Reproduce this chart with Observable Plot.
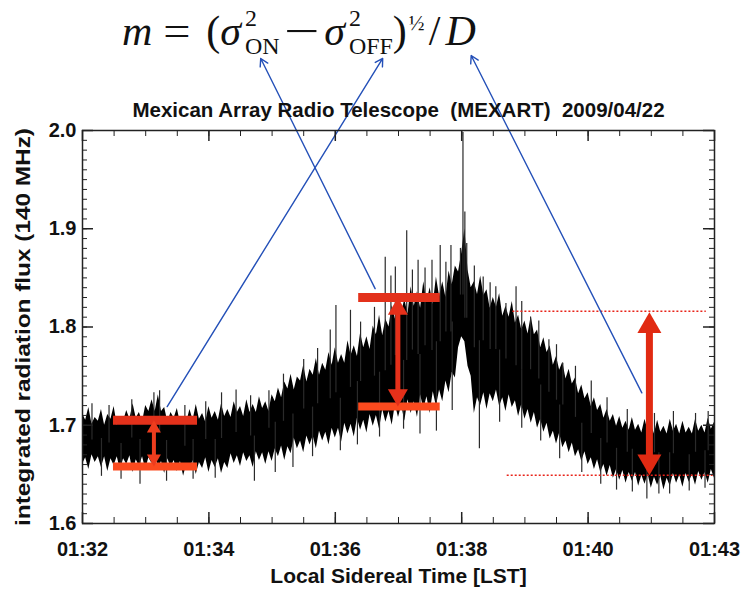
<!DOCTYPE html>
<html><head><meta charset="utf-8">
<script src="https://cdn.jsdelivr.net/npm/d3@7"></script>
<script src="https://cdn.jsdelivr.net/npm/@observablehq/plot@0.6"></script>
<style>
body{margin:0;background:#fff;}
#wrap{position:relative;width:745px;height:592px;overflow:hidden;background:#fff;}
#formula{position:absolute;left:122px;top:5px;font-family:"Liberation Serif","Times New Roman",serif;font-size:42px;color:#111;white-space:nowrap;line-height:1;}
#formula .ss{display:inline-block;font-size:0.57em;line-height:1.15;vertical-align:-9px;text-align:left;margin-left:4px;}
#formula .ss span{display:block;}
#formula .eq{display:inline-block;transform:scaleX(1.15);margin:0 0.42em 0 0.3em;}
#formula .op{display:inline-block;transform:scaleX(1.5);margin:0 0.26em 0 0.24em;}
#formula .half{font-size:0.5em;vertical-align:15px;margin-left:2px;}
#formula .sl{margin:0 0.12em 0 0.1em;}
</style></head>
<body><div id="wrap"><div id="chart"></div>
<div id="formula"><i>m</i><span class="eq">=</span>(<i>σ</i><span class="ss"><span>2</span><span>ON</span></span><span class="op">−</span><i>σ</i><span class="ss"><span>2</span><span>OFF</span></span>)<span class="half">½</span><span class="sl">/</span><i>D</i></div>
</div>
<script>
// ---- data: minutes after 01:32 LST ----
// outer edge of the dense trace, every 0.1 min (t = 0.0, 0.1, ... 10.0)
const bandHigh = [
1.712,1.718,1.708,1.716,1.711,1.719,1.709,1.715,1.722,1.713,
1.720,1.726,1.731,1.718,1.713,1.717,1.709,1.716,1.721,1.712,
1.719,1.714,1.722,1.716,1.724,1.719,1.726,1.721,1.729,1.724,
1.731,1.738,1.744,1.752,1.749,1.761,1.757,1.768,1.763,1.774,
1.779,1.772,1.786,1.781,1.794,1.790,1.801,1.812,1.808,1.822,
1.834,1.828,1.841,1.836,1.846,1.840,1.851,1.846,1.857,1.862,
1.875,1.858,1.846,1.852,1.838,1.830,1.834,1.821,1.826,1.812,
1.806,1.811,1.797,1.789,1.781,1.770,1.764,1.757,1.748,1.741,
1.733,1.728,1.721,1.716,1.711,1.709,1.704,1.708,1.701,1.706,
1.700,1.705,1.699,1.706,1.701,1.704,1.698,1.706,1.700,1.707,
1.703];
const bandLow = [
1.660,1.655,1.662,1.657,1.653,1.659,1.654,1.660,1.652,1.658,
1.655,1.661,1.656,1.651,1.657,1.653,1.648,1.655,1.650,1.656,
1.652,1.657,1.651,1.656,1.661,1.658,1.663,1.657,1.664,1.660,
1.663,1.668,1.664,1.671,1.676,1.672,1.680,1.676,1.684,1.680,
1.687,1.683,1.691,1.688,1.695,1.692,1.699,1.696,1.703,1.700,
1.708,1.704,1.712,1.708,1.716,1.712,1.719,1.724,1.733,1.748,
1.790,1.760,1.712,1.720,1.716,1.724,1.719,1.714,1.718,1.709,
1.706,1.702,1.697,1.693,1.686,1.681,1.677,1.672,1.668,1.663,
1.660,1.655,1.652,1.648,1.646,1.644,1.641,1.643,1.638,1.640,
1.636,1.639,1.634,1.638,1.641,1.637,1.642,1.639,1.644,1.641,
1.646];
// inner dips of the trace edge, halfway between samples (t = 0.05, 0.15, ... 9.95)
const dipHigh = [
1.705,1.701,1.704,1.700,1.706,1.700,1.704,1.706,1.707,1.703,
1.714,1.714,1.714,1.703,1.707,1.702,1.703,1.705,1.706,1.703,
1.707,1.705,1.709,1.708,1.713,1.709,1.713,1.713,1.717,1.714,
1.724,1.728,1.737,1.736,1.745,1.744,1.751,1.751,1.756,1.761,
1.763,1.763,1.771,1.770,1.779,1.777,1.792,1.791,1.800,1.808,
1.815,1.813,1.821,1.819,1.825,1.823,1.831,1.830,1.843,1.856,
1.900,1.840,1.833,1.832,1.819,1.820,1.811,1.810,1.804,1.797,
1.793,1.792,1.779,1.774,1.761,1.756,1.747,1.742,1.732,1.727,
1.719,1.715,1.707,1.704,1.699,1.697,1.695,1.695,1.692,1.694,
1.691,1.693,1.691,1.694,1.691,1.692,1.691,1.694,1.692,1.696];
const dipLow = [
1.667,1.670,1.668,1.668,1.666,1.668,1.666,1.669,1.665,1.668,
1.667,1.671,1.663,1.666,1.664,1.663,1.661,1.664,1.662,1.667,
1.664,1.666,1.662,1.671,1.669,1.672,1.669,1.673,1.672,1.673,
1.676,1.679,1.678,1.687,1.684,1.689,1.689,1.694,1.693,1.697,
1.697,1.702,1.701,1.707,1.705,1.711,1.710,1.716,1.714,1.721,
1.720,1.726,1.724,1.731,1.729,1.734,1.736,1.745,1.754,1.779,
1.785,1.750,1.728,1.733,1.732,1.736,1.728,1.731,1.725,1.721,
1.716,1.713,1.706,1.702,1.694,1.692,1.684,1.682,1.675,1.673,
1.667,1.665,1.660,1.659,1.655,1.654,1.652,1.652,1.649,1.650,
1.647,1.648,1.646,1.651,1.649,1.651,1.650,1.653,1.652,1.655];
// isolated spikes beyond the dense trace
const spikeTime = [0.15,0.42,0.78,1.13,1.22,1.62,1.95,2.20,2.43,2.66,2.95,3.18,3.50,3.72,3.92,4.01,4.24,4.40,4.62,4.79,4.88,4.95,5.13,5.22,5.31,5.42,5.53,5.66,5.75,5.83,5.98,6.02,6.05,6.08,6.20,6.34,6.45,6.54,6.70,6.86,6.95,7.09,7.22,7.38,7.50,7.60,7.80,8.05,8.30,8.62,9.05,9.35,9.70,9.90,
 0.30,0.61,0.91,1.33,1.75,2.10,2.72,3.05,3.33,3.64,4.08,4.35,4.70,5.08,5.34,5.60,5.85,6.28,6.60,6.95,7.25,7.55,7.90,8.20,8.45,8.70,8.93,9.12,9.29,9.60,9.85];
const spikeValue = [1.722,1.720,1.726,1.733,1.735,1.720,1.724,1.733,1.736,1.730,1.735,1.752,1.767,1.778,1.797,1.822,1.817,1.805,1.820,1.871,1.852,1.861,1.898,1.858,1.868,1.860,1.868,1.883,1.866,1.883,1.880,1.998,1.917,1.885,1.862,1.851,1.845,1.841,1.824,1.841,1.826,1.810,1.806,1.787,1.782,1.763,1.760,1.745,1.728,1.716,1.712,1.714,1.712,1.714,
 1.648,1.645,1.640,1.643,1.645,1.646,1.643,1.652,1.657,1.668,1.674,1.680,1.688,1.696,1.691,1.694,1.715,1.676,1.703,1.697,1.684,1.666,1.652,1.640,1.634,1.632,1.625,1.630,1.630,1.633,1.636];

// axis ticks and texts
const xMajor = [0, 2, 4, 6, 8, 10];
const xTickLabels = ["01:32", "01:34", "01:36", "01:38", "01:40", "01:43"];
const yMajor = [1.6, 1.7, 1.8, 1.9, 2.0];
const titleText = "Mexican Array Radio Telescope  (MEXART)  2009/04/22";
const xLabel = "Local Sidereal Time [LST]";
const yLabel = "integrated radiation flux (140 MHz)";

// annotations (data coordinates)
const barStart = [0.49, 0.49, 4.37, 4.37];
const barEnd = [1.82, 1.82, 5.66, 5.66];
const barValue = [1.705, 1.658, 1.830, 1.719];
const arrowTime = [1.13, 4.99, 8.97];
const arrowTop = [1.705, 1.830, 1.815];
const arrowBottom = [1.658, 1.719, 1.649];
const dottedStart = [6.81, 6.72];
const dottedEnd = [9.87, 10.0];
const dottedValue = [1.816, 1.649];
const blueFromT = [1.34, 4.63, 8.85];
const blueFromV = [1.719, 1.839, 1.733];
const blueToT = [4.75, 2.82, 6.15];
const blueToV = [2.0733, 2.0733, 2.0763];

// ---- build ----
const W = 745, H = 592, mL = 82, mR = 31, mT = 130, mB = 69;
const innerW = W - mL - mR, innerH = H - mT - mB;
const band = [];
bandHigh.forEach((h, i) => {
  band.push({t: i / 10, hi: h, lo: bandLow[i]});
  if (i < dipHigh.length) band.push({t: i / 10 + 0.05, hi: dipHigh[i], lo: dipLow[i]});
});
const spikes = spikeTime.map((t, i) => {
  const j = Math.round(t * 10);
  return {t, v: spikeValue[i], base: (bandHigh[j] + bandLow[j]) / 2};
});
const bars = barValue.map((v, i) => ({x1: barStart[i], x2: barEnd[i], v, top: i % 2 === 0}));
const xMinor = d3.range(0, 10.001, 0.5);
const yMinor = d3.range(160, 201, 1).map(d => d / 100);

const arrowStyle = [
  {w: 4, head: 14, color: "#ee3d1e"},
  {w: 5, head: 20, color: "#e5301a"},
  {w: 7, head: 24, color: "#e12a12"}
];
const arrowMarks = [];
arrowTime.forEach((t, i) => {
  const s = arrowStyle[i];
  const off = s.head / Math.sqrt(3);
  const r = Math.sqrt(0.433 * s.head * s.head / Math.PI);
  const d = [{t, top: arrowTop[i], bottom: arrowBottom[i]}];
  arrowMarks.push(Plot.ruleX(d, {x: "t", y1: "top", y2: "bottom", stroke: s.color, strokeWidth: s.w, insetTop: off, insetBottom: off}));
  arrowMarks.push(Plot.dot(d, {x: "t", y: "top", symbol: "triangle", r, fill: s.color, stroke: "none", dy: off}));
  arrowMarks.push(Plot.dot(d, {x: "t", y: "bottom", symbol: "triangle", r, fill: s.color, stroke: "none", dy: -off, rotate: 180}));
});

const blue = blueFromT.map((t, i) => ({x1: t, y1: blueFromV[i], x2: blueToT[i], y2: blueToV[i]}));
const dotted = dottedValue.map((v, i) => ({x1: dottedStart[i], x2: dottedEnd[i], v}));

const chart = Plot.plot({
  width: W, height: H,
  marginLeft: mL, marginRight: mR, marginTop: mT, marginBottom: mB,
  x: {domain: [0, 10], axis: null},
  y: {domain: [1.6, 2.0], axis: null},
  style: {fontFamily: "'Liberation Sans', Arial, sans-serif", fontSize: "20px", fontWeight: "bold", color: "#111", background: "white", overflow: "visible"},
  marks: [
    Plot.areaY(band, {x: "t", y1: "lo", y2: "hi", fill: "#000"}),
    Plot.ruleX(spikes, {x: "t", y1: "base", y2: "v", stroke: "#2a2a2a", strokeWidth: 1.2}),
    Plot.ruleY(dotted, {x1: "x1", x2: "x2", y: "v", stroke: "#e8241a", strokeWidth: 1.5, strokeDasharray: "2,2"}),
    Plot.ruleY(bars, {x1: "x1", x2: "x2", y: "v", stroke: d => d.top ? "#e3311b" : "#fb4a1e", strokeWidth: d => d.top ? 9 : 8}),
    ...arrowMarks,
    Plot.arrow(blue, {x1: "x1", y1: "y1", x2: "x2", y2: "y2", stroke: "#2450b8", strokeWidth: 1.4, headLength: 9}),
    // inward ticks on all four sides
    Plot.ruleY(yMinor, {y: d => d, insetRight: innerW - 5, stroke: "#222", strokeWidth: 1}),
    Plot.ruleY(yMinor, {y: d => d, insetLeft: innerW - 5, stroke: "#222", strokeWidth: 1}),
    Plot.ruleY(yMajor, {y: d => d, insetRight: innerW - 11, stroke: "#222", strokeWidth: 1.5}),
    Plot.ruleY(yMajor, {y: d => d, insetLeft: innerW - 11, stroke: "#222", strokeWidth: 1.5}),
    Plot.ruleX(xMinor, {x: d => d, insetTop: innerH - 6, stroke: "#222", strokeWidth: 1}),
    Plot.ruleX(xMinor, {x: d => d, insetBottom: innerH - 6, stroke: "#222", strokeWidth: 1}),
    Plot.ruleX(xMajor, {x: d => d, insetTop: innerH - 11, stroke: "#222", strokeWidth: 1.5}),
    Plot.ruleX(xMajor, {x: d => d, insetBottom: innerH - 11, stroke: "#222", strokeWidth: 1.5}),
    Plot.frame({stroke: "#222", strokeWidth: 1.5}),
    Plot.axisX(xMajor, {tickSize: 0, tickPadding: 18, tickFormat: d => xTickLabels[xMajor.indexOf(d)], label: null}),
    Plot.axisY(yMajor, {tickSize: 0, tickPadding: 6, tickFormat: d => d.toFixed(1), label: null}),
    Plot.text([titleText], {frameAnchor: "top", dx: 0, dy: -20, lineAnchor: "middle", textAnchor: "middle", fontSize: 20.5, text: d => d}),
    Plot.text([xLabel], {frameAnchor: "bottom", dy: 53, lineAnchor: "middle", textAnchor: "middle", fontSize: 21, text: d => d}),
    Plot.text([yLabel], {frameAnchor: "left", dx: -59, rotate: -90, lineAnchor: "middle", textAnchor: "middle", fontSize: 20, text: d => d})
  ]
});
d3.select(chart).selectAll("text").each(function () {
  if (this.textContent === yLabel) {
    this.setAttribute("textLength", 398);
    this.setAttribute("lengthAdjust", "spacingAndGlyphs");
  }
});
document.getElementById("chart").appendChild(chart);
</script></body></html>
